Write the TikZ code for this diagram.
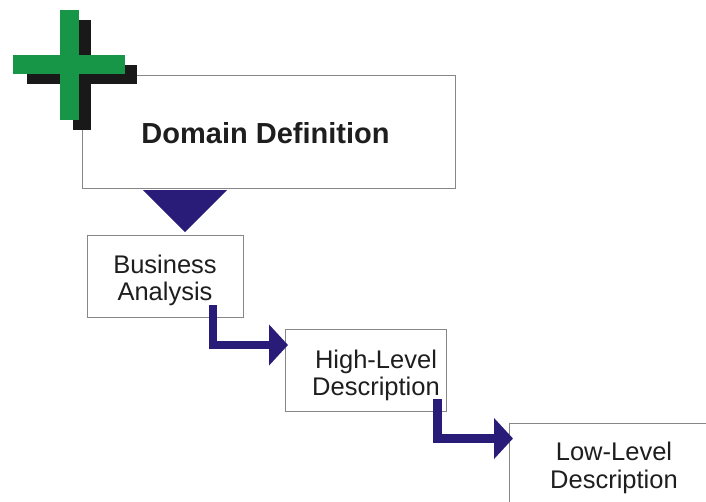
\documentclass[tikz,border=0pt]{standalone}
\usepackage{fontspec}
\setmainfont{Liberation Sans}
\usetikzlibrary{arrows.meta}
\definecolor{navy}{RGB}{40,28,120}
\definecolor{crossgreen}{RGB}{22,150,70}
\definecolor{boxgray}{RGB}{135,135,135}
\definecolor{txt}{RGB}{30,30,30}
\tikzset{
  box/.style={draw=boxgray, line width=1pt, fill=white},
  lbl/.style={anchor=base, inner sep=0pt, text=txt, font=\fontsize{25.5}{28}\selectfont},
  flow/.style={draw=navy, line width=8.5pt, -{Triangle[width=40pt,length=19pt]}}
}
\begin{document}
\begin{tikzpicture}[x=1pt,y=-1pt]
\useasboundingbox (0,0) rectangle (706,501);
\clip (0,0) rectangle (706,501);
% boxes
\draw[box] (82,75) rectangle (455,188);
\draw[box] (87,235) rectangle (243,317);
\draw[box] (285,329) rectangle (446,411);
\draw[box] (509,423) rectangle (730,530);
% cross shadow and cross
\fill[black!90] (73,20) rectangle (91,130);
\fill[black!90] (27,65) rectangle (137,84);
\fill[crossgreen] (60,10) rectangle (79,120);
\fill[crossgreen] (13,55) rectangle (125,74);
% texts
\node[lbl, font=\bfseries\fontsize{29}{31}\selectfont] (dd) at (265.5,143) {Domain Definition};
\node[lbl] (ba1) at (165,273) {Business};
\node[lbl] (ba2) at (165,300) {Analysis};
\node[lbl] (hl1) at (376,368) {High-Level};
\node[lbl] (hl2) at (376,395) {Description};
\node[lbl] (ll1) at (614,460) {Low-Level};
\node[lbl] (ll2) at (614,488) {Description};
% triangle
\coordinate (t1) at (143,190);
\coordinate (t2) at (227,190);
\coordinate (t3) at (185,232);
\fill[navy] (t1) -- (t2) -- (t3) -- cycle;
% arrows
\coordinate (a1s) at (213,305);
\coordinate (a1e) at (288,345);
\coordinate (a2s) at (437.5,399);
\coordinate (a2e) at (513,438.5);
\draw[flow] (a1s) |- (a1e);
\draw[flow] (a2s) |- (a2e);
\end{tikzpicture}
\end{document}
